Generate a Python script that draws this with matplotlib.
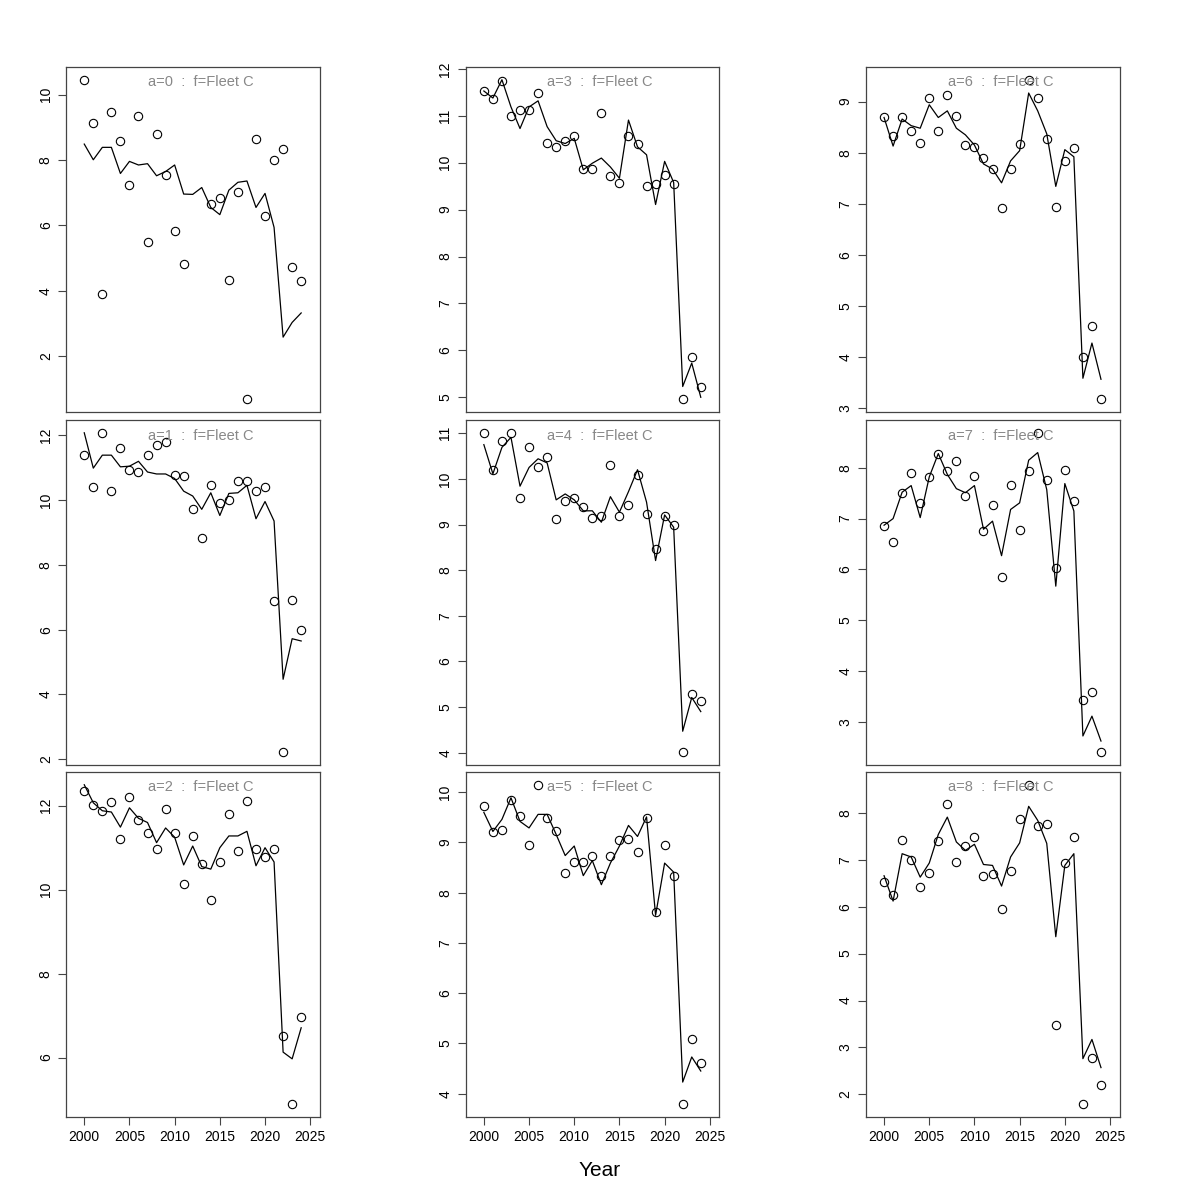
import numpy as np
import matplotlib.pyplot as plt
from matplotlib.ticker import MultipleLocator

plt.rcParams["font.family"] = ["Liberation Sans", "DejaVu Sans"]

years = np.arange(2000, 2025)
nan = np.nan

# observed (points) and fitted (line) per age, Fleet C
obs_a0 = [10.46, 9.13, 3.89, 9.48, 8.57, 7.23, 9.34, 5.50, 8.81, 7.53, 5.84, 4.81, nan, nan,
          6.65, 6.84, 4.34, 7.01, 0.68, 8.66, 6.30, 7.99, 8.34, 4.73, 4.30]
fit_a0 = [8.49, 8.01, 8.39, 8.39, 7.59, 7.96, 7.85, 7.89, 7.52, 7.65, 7.85, 6.96, 6.95, 7.16,
          6.55, 6.33, 7.08, 7.32, 7.36, 6.55, 6.98, 5.94, 2.58, 3.03, 3.32]
obs_a1 = [11.40, 10.39, 12.06, 10.28, 11.59, 10.93, 10.85, 11.38, 11.68, 11.80, 10.77, 10.73, 9.72,
          8.83, 10.45, 9.92, 10.00, 10.58, 10.57, 10.26, 10.39, 6.87, 2.22, 6.91, 5.98]
fit_a1 = [12.07, 10.98, 11.38, 11.38, 11.02, 11.04, 11.19, 10.86, 10.80, 10.80, 10.66, 10.27, 10.12,
          9.71, 10.22, 9.52, 10.20, 10.22, 10.45, 9.42, 9.95, 9.35, 4.47, 5.72, 5.65]
obs_a2 = [12.34, 12.02, 11.88, 12.09, 11.20, 12.21, 11.65, 11.36, 10.97, 11.92, 11.35, 10.14, 11.28,
          10.62, 9.75, 10.65, 11.81, 10.92, 12.11, 10.97, 10.78, 10.98, 6.51, 4.89, 6.96]
fit_a2 = [12.50, 12.07, 11.88, 11.85, 11.49, 11.95, 11.70, 11.60, 11.12, 11.47, 11.25, 10.59, 11.04,
          10.55, 10.49, 11.00, 11.28, 11.28, 11.39, 10.57, 11.00, 10.66, 6.13, 5.97, 6.71]
obs_a3 = [11.53, 11.36, 11.75, 11.00, 11.12, 11.13, 11.48, 10.43, 10.34, 10.47, 10.56, 9.86, 9.86,
          11.07, 9.72, 9.57, 10.58, 10.40, 9.50, 9.55, 9.74, 9.55, 4.96, 5.86, 5.21]
fit_a3 = [11.53, 11.38, 11.77, 11.19, 10.73, 11.19, 11.32, 10.77, 10.47, 10.41, 10.52, 9.85, 9.99,
          10.10, 9.91, 9.67, 10.91, 10.34, 10.17, 9.11, 10.03, 9.58, 5.23, 5.73, 5.00]
obs_a4 = [11.01, 10.20, 10.82, 11.00, 9.57, 10.69, 10.27, 10.48, 9.12, 9.51, 9.57, 9.39, 9.15,
          9.19, 10.31, 9.19, 9.43, 10.08, 9.23, 8.47, 9.18, 8.98, 4.01, 5.29, 5.13]
fit_a4 = [10.75, 10.11, 10.69, 10.91, 9.84, 10.25, 10.44, 10.35, 9.54, 9.67, 9.54, 9.30, 9.30,
          9.05, 9.61, 9.27, 9.72, 10.20, 9.49, 8.21, 9.21, 8.94, 4.47, 5.21, 4.90]
obs_a5 = [9.73, 9.20, 9.24, 9.85, 9.53, 8.95, 10.15, 9.49, 9.22, 8.39, 8.61, 8.61, 8.74,
          8.33, 8.74, 9.05, 9.06, 8.81, 9.48, 7.61, 8.95, 8.34, 3.79, 5.09, 4.60]
fit_a5 = [9.60, 9.22, 9.46, 9.89, 9.42, 9.29, 9.56, 9.56, 9.16, 8.74, 8.93, 8.34, 8.64,
          8.16, 8.59, 8.93, 9.34, 9.12, 9.51, 7.55, 8.59, 8.41, 4.23, 4.73, 4.45]
obs_a6 = [8.69, 8.32, 8.69, 8.43, 8.19, 9.07, 8.42, 9.14, 8.71, 8.15, 8.11, 7.90, 7.68,
          6.92, 7.69, 8.18, 9.43, 9.07, 8.26, 6.94, 7.83, 8.09, 3.99, 4.60, 3.17]
fit_a6 = [8.69, 8.13, 8.66, 8.53, 8.48, 8.94, 8.69, 8.82, 8.48, 8.35, 8.15, 7.78, 7.68,
          7.41, 7.84, 8.04, 9.17, 8.82, 8.37, 7.34, 8.06, 7.92, 3.58, 4.27, 3.56]
obs_a7 = [6.85, 6.54, 7.50, 7.90, 7.30, 7.82, 8.28, 7.93, 8.14, 7.44, 7.84, 6.76, 7.27,
          5.86, 7.67, 6.77, 7.93, 8.69, 7.76, 6.02, 7.95, 7.34, 3.43, 3.59, 2.40]
fit_a7 = [6.87, 7.00, 7.52, 7.65, 7.02, 7.82, 8.28, 7.87, 7.59, 7.51, 7.65, 6.79, 6.95,
          6.27, 7.18, 7.31, 8.15, 8.30, 7.57, 5.67, 7.69, 7.15, 2.72, 3.11, 2.62]
obs_a8 = [6.52, 6.26, 7.43, 7.00, 6.42, 6.71, 7.40, 8.18, 6.95, 7.29, 7.49, 6.66, 6.69,
          5.95, 6.77, 7.88, 8.60, 7.71, 7.77, 3.48, 6.93, 7.49, 1.79, 2.77, 2.20]
fit_a8 = [6.66, 6.12, 7.13, 7.06, 6.63, 6.93, 7.54, 7.91, 7.38, 7.20, 7.33, 6.90, 6.88,
          6.44, 7.06, 7.36, 8.14, 7.84, 7.35, 5.36, 6.88, 7.13, 2.76, 3.17, 2.57]

observed = [obs_a0, obs_a1, obs_a2, obs_a3, obs_a4, obs_a5, obs_a6, obs_a7, obs_a8]
fitted = [fit_a0, fit_a1, fit_a2, fit_a3, fit_a4, fit_a5, fit_a6, fit_a7, fit_a8]
fleet = "Fleet C"

# panel geometry (figure fractions), R-style par(mfcol) layout
col_left = [0.055, 0.388, 0.7215]
col_w = 0.2115
row_bottom = [0.6567, 0.3625, 0.0692]
row_h = 0.2875
y_step = [2, 2, 2, 1, 1, 1, 1, 1, 1]
EDGE = "#444444"

fig = plt.figure(figsize=(12, 12), dpi=100)

for age in range(9):
    col, row = divmod(age, 3)
    ax = fig.add_axes([col_left[col], row_bottom[row], col_w, row_h])
    obs = np.array(observed[age], dtype=float)
    fit = np.array(fitted[age], dtype=float)

    ax.plot(years, fit, color="black", lw=0.9)
    ax.plot(years, obs, "o", mfc="none", mec="black", ms=6, mew=0.8)

    vals = np.concatenate([obs[~np.isnan(obs)], fit])
    lo, hi = vals.min(), vals.max()
    pad = 0.04 * (hi - lo)
    ax.set_ylim(lo - pad, hi + pad)
    ax.set_xlim(1997.98, 2026.06)

    ax.yaxis.set_major_locator(MultipleLocator(y_step[age]))
    ax.xaxis.set_major_locator(MultipleLocator(5))
    for s in ax.spines.values():
        s.set_color(EDGE)
        s.set_linewidth(0.9)
    ax.tick_params(direction="out", length=6, width=0.8, color=EDGE, labelsize=10)
    for lab in ax.get_yticklabels():
        lab.set_rotation(90)
        lab.set_va("center")
    if row < 2:
        ax.tick_params(axis="x", bottom=False, labelbottom=False)

    ax.text(0.53, 0.955, f"a={age}  :  f={fleet}", transform=ax.transAxes,
            ha="center", va="center", color="#888888", fontsize=10.5)

fig.text(0.5, 0.025, "Year", ha="center", va="center", fontsize=15)

fig.savefig("out.png", dpi=100)
